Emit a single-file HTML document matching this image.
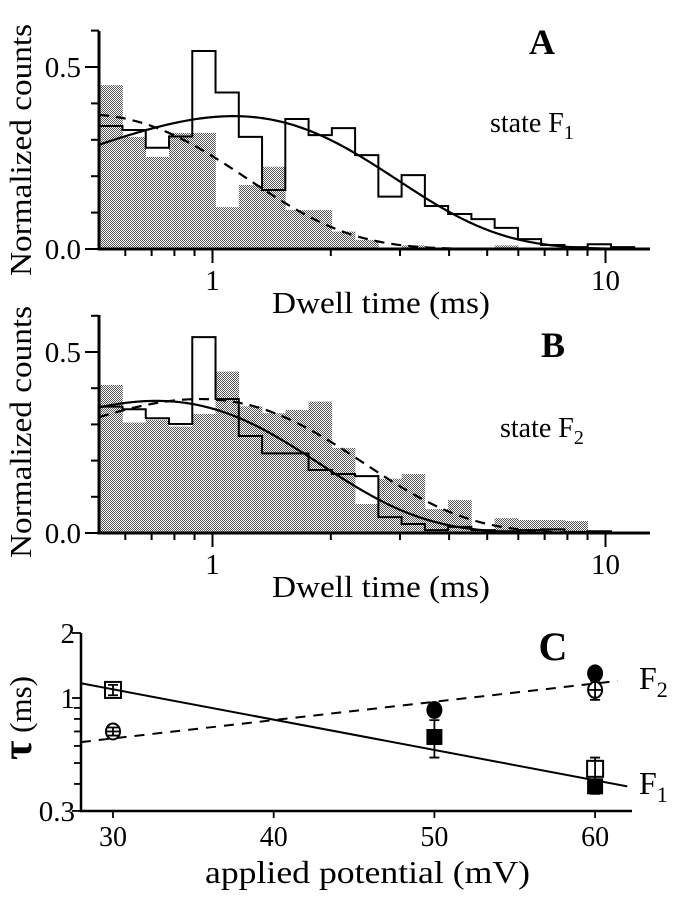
<!DOCTYPE html>
<html><head><meta charset="utf-8"><style>
html,body{margin:0;padding:0;background:#fff}
svg{display:block;font-family:"Liberation Serif",serif}
</style></head><body>
<svg id="fig" width="680" height="899" viewBox="0 0 680 899" xmlns="http://www.w3.org/2000/svg">
<defs>
<pattern id="stip" width="2" height="2" patternUnits="userSpaceOnUse">
<rect width="2" height="2" fill="#fff"/><rect width="1" height="1" fill="#555"/><rect x="1" y="1" width="1" height="1" fill="#555"/>
</pattern>
</defs>
<g id="panelA"></g>
<g id="panelB"></g>
<g id="panelC"></g>
</svg>
<script>
// ---- histogram data (log-spaced bins) ----
const binStartMs = 0.515;
const binCount = 23;
const binRatio = 1.146;
const aOpen = [0.338,0.327,0.278,0.309,0.544,0.43,0.308,0.162,0.357,0.313,0.332,0.258,0.144,0.203,0.118,0.096,0.082,0.058,0.027,0.011,0.005,0.013,0.005];
const aShaded = [0.45,0.308,0.253,0.319,0.319,0.115,0.176,0.226,0.107,0.107,0.048,0.025,0.0,0.01,0.0,0.0,0.0,0.01,0.0,0,0,0,0];
const bOpen = [0.349,0.342,0.317,0.301,0.541,0.37,0.268,0.22,0.22,0.174,0.163,0.157,0.044,0.025,0.008,0.017,0.008,0.005,0.008,0.01,0.003,0.005,0];
const bShaded = [0.409,0.305,0.312,0.294,0.329,0.446,0.35,0.331,0.34,0.363,0.235,0.08,0.15,0.163,0.066,0.091,0.01,0.041,0.036,0.036,0.033,0.005,0];
// fit parameters [amplitude, tau(ms)]
const aSolidFit = [0.365, 1.13];
const aDashedFit = [0.37, 0.47];
const bSolidFit = [0.365, 0.72];
const bDashedFit = [0.37, 0.93];
const histYTicks = [0.0,0.1,0.2,0.3,0.4,0.5,0.6];
const histYLabels = ["0.0","0.5"];
const histXLabels = [1,10];
// ---- panel C data ----
const cPotentials = [30,50,60];
const f1Open = [1.09,null,0.47];
const f1OpenErr = [0.06,null,0.06];
const f1Filled = [null,0.66,0.39];
const f1FilledErr = [null,0.13,0.03];
const f2Open = [0.70,null,1.09];
const f2OpenErr = [0.03,null,0.11];
const f2Filled = [null,0.88,1.30];
const f1Line = [[28,1.17],[62,0.39]];
const f2Line = [[28,0.625],[61.4,1.2]];
const cYTicks = [0.3,0.4,0.5,0.6,0.7,0.8,0.9,1,2];
const cXTicks = [30,40,50,60];

const NS="http://www.w3.org/2000/svg";
function mk(parent,tag,attrs){const e=document.createElementNS(NS,tag);for(const k in attrs)e.setAttribute(k,attrs[k]);parent.appendChild(e);return e;}

function histPanel(g,cfg){
  const X0=99,X1=650,x1=212.5,x10=605.5;
  const xs=t=>x1+(x10-x1)*Math.log10(t);
  const ys=v=>cfg.y0-v*cfg.ppu;
  const edge=i=>binStartMs*Math.pow(binRatio,i);
  cfg.shaded.forEach((v,i)=>{ if(v<=0) return;
    const r=mk(g,'rect',{x:xs(edge(i)),y:ys(v),width:xs(edge(i+1))-xs(edge(i))+0.3,height:cfg.y0-ys(v),fill:'url(#stip)'});
    
    
  });
  let d='M'+xs(edge(0))+','+cfg.y0;
  cfg.open.forEach((v,i)=>{d+=' L'+xs(edge(i))+','+ys(v)+' L'+xs(edge(i+1))+','+ys(v);});
  d+=' L'+xs(edge(cfg.open.length))+','+cfg.y0;
  const st=mk(g,'path',{d:d,fill:'none',stroke:'#000','stroke-width':2});
  
  
  function curve(p,dash,name){
    let dd='';for(let px=X0;px<=cfg.curveEnd;px+=2){const t=Math.pow(10,(px-x1)/(x10-x1));const v=p[0]*(t/p[1])*Math.exp(1-t/p[1]);dd+=(dd?' L':'M')+px+','+ys(v);}
    const c=mk(g,'path',{d:dd,fill:'none',stroke:'#000','stroke-width':2.2,'stroke-dasharray':dash?'10,7':'none'});
    
    
  }
  curve(cfg.dashed,true,'dashed-fit-curve');
  curve(cfg.solid,false,'solid-fit-curve');
  const ax=mk(g,'path',{d:`M${X0},${cfg.yTop} L${X0},${cfg.y0} L${X1},${cfg.y0}`,fill:'none',stroke:'#000','stroke-width':3});
  
  
  histYTicks.forEach(v=>{const major=(v===0||v===0.5);mk(g,'line',{x1:X0-(major?14:8),x2:X0,y1:ys(v),y2:ys(v),stroke:'#000','stroke-width':2});});
  [0.6,0.7,0.8,0.9,1,2,3,4,5,6,7,8,9,10].forEach(t=>{const major=(t===1||t===10);mk(g,'line',{x1:xs(t),x2:xs(t),y1:cfg.y0,y2:cfg.y0+(major?14:7),stroke:'#000','stroke-width':2});});
  [[0,histYLabels[0]],[0.5,histYLabels[1]]].forEach(([v,l])=>{const t=mk(g,'text',{x:81,y:ys(v)+10,'text-anchor':'end','font-size':29});t.textContent=l;
    });
  histXLabels.forEach(v=>{const t=mk(g,'text',{x:xs(v),y:cfg.y0+41,'text-anchor':'middle','font-size':29});t.textContent=String(v);
    });
  const xl=mk(g,'text',{x:272,y:cfg.y0+64,'font-size':31,textLength:218,lengthAdjust:'spacingAndGlyphs'});xl.textContent='Dwell time (ms)';
  
  const yl=mk(g,'text',{x:0,y:0,'text-anchor':'middle','font-size':31,textLength:252,lengthAdjust:'spacingAndGlyphs',transform:`translate(31,${cfg.yMid}) rotate(-90)`});yl.textContent='Normalized counts';
  
  const L=mk(g,'text',{x:cfg.letterX,y:cfg.letterY,'text-anchor':'middle','font-size':36,'font-weight':'bold'});L.textContent=cfg.letter;
  
  const s=mk(g,'text',{x:cfg.stateX,y:cfg.stateY,'font-size':28});s.innerHTML='state F<tspan font-size="20" dy="7">'+cfg.sub+'</tspan>';
  
}
histPanel(document.getElementById('panelA'),{y0:249,ppu:364,yTop:31,open:aOpen,shaded:aShaded,solid:aSolidFit,dashed:aDashedFit,curveEnd:648,yMid:150,letter:'A',letterX:542,letterY:54,stateX:490,stateY:132,sub:'1'});
histPanel(document.getElementById('panelB'),{y0:533,ppu:362,yTop:315,open:bOpen,shaded:bShaded,solid:bSolidFit,dashed:bDashedFit,curveEnd:648,yMid:432,letter:'B',letterX:553,letterY:357,stateX:500,stateY:437,sub:'2'});

// ---- panel C ----
(function(){
  const g=document.getElementById('panelC');
  const X0=81,X1=632,Y0=811;
  const xs=v=>113+(v-30)*16.07;
  const ys=v=>698-Math.log10(v)*216;
  const ax=mk(g,'path',{d:`M${X0},${ys(2)} L${X0},${Y0} L${X1},${Y0}`,fill:'none',stroke:'#000','stroke-width':2.5});
  
  cYTicks.forEach(v=>{const major=(v===1||v===2||v===0.3);mk(g,'line',{x1:X0-(major?9:7),x2:X0,y1:ys(v),y2:ys(v),stroke:'#000','stroke-width':1.8});});
  [[2,'2'],[1,'1'],[0.3,'0.3']].forEach(([v,l])=>{const t=mk(g,'text',{x:X0-6,y:ys(v)+10,'text-anchor':'end','font-size':29});t.textContent=l;
    });
  cXTicks.forEach(v=>{mk(g,'line',{x1:xs(v),x2:xs(v),y1:Y0,y2:Y0+7,stroke:'#000','stroke-width':1.8});
    const t=mk(g,'text',{x:xs(v),y:Y0+35,'text-anchor':'middle','font-size':28});t.textContent=String(v);
    });
  const xl=mk(g,'text',{x:205,y:883,'font-size':32,textLength:325,lengthAdjust:'spacingAndGlyphs'});xl.textContent='applied potential  (mV)';
  
  const yl=mk(g,'text',{x:0,y:0,'text-anchor':'middle','font-size':31,transform:'translate(31,718) rotate(-90)'});
  yl.innerHTML='<tspan font-size="42" font-weight="bold">τ</tspan>  (ms)';
  
  const l1=mk(g,'line',{x1:xs(f1Line[0][0]),y1:ys(f1Line[0][1]),x2:xs(f1Line[1][0]),y2:ys(f1Line[1][1]),stroke:'#000','stroke-width':2});
  
  const l2=mk(g,'line',{x1:xs(f2Line[0][0]),y1:ys(f2Line[0][1]),x2:xs(f2Line[1][0]),y2:ys(f2Line[1][1]),stroke:'#000','stroke-width':2,'stroke-dasharray':'10,8'});
  
  function err(x,v,e){if(!e)return;mk(g,'path',{d:`M${x},${ys(v+e)} L${x},${ys(v-e)} M${x-5},${ys(v+e)} L${x+5},${ys(v+e)} M${x-5},${ys(v-e)} L${x+5},${ys(v-e)}`,stroke:'#000','stroke-width':1.8,fill:'none'});}
  cPotentials.forEach((p,i)=>{const x=xs(p);
    if(f1Open[i]!=null){err(x,f1Open[i],f1OpenErr[i]);const r=mk(g,'rect',{x:x-8,y:ys(f1Open[i])-8,width:16,height:16,fill:'none',stroke:'#000','stroke-width':2});
      }
    if(f1Filled[i]!=null){err(x,f1Filled[i],f1FilledErr[i]);const r=mk(g,'rect',{x:x-8,y:ys(f1Filled[i])-8,width:16,height:16,fill:'#000'});
      }
    if(f2Open[i]!=null){err(x,f2Open[i],f2OpenErr[i]);const c=mk(g,'ellipse',{cx:x,cy:ys(f2Open[i]),rx:7,ry:8,fill:'none',stroke:'#000','stroke-width':2});
      mk(g,'line',{x1:x-7,x2:x+7,y1:ys(f2Open[i]),y2:ys(f2Open[i]),stroke:'#000','stroke-width':1.8});
      }
    if(f2Filled[i]!=null){const c=mk(g,'ellipse',{cx:x,cy:ys(f2Filled[i]),rx:8,ry:9,fill:'#000'});
      }
  });
  const C=mk(g,'text',{x:553,y:660,'text-anchor':'middle','font-size':40,'font-weight':'bold'});C.textContent='C';
  
  const f2=mk(g,'text',{x:639,y:689,'font-size':32});f2.innerHTML='F<tspan font-size="22" dy="8">2</tspan>';
  
  const f1=mk(g,'text',{x:639,y:794,'font-size':32});f1.innerHTML='F<tspan font-size="22" dy="8">1</tspan>';
  
})();
</script>
</body></html>
